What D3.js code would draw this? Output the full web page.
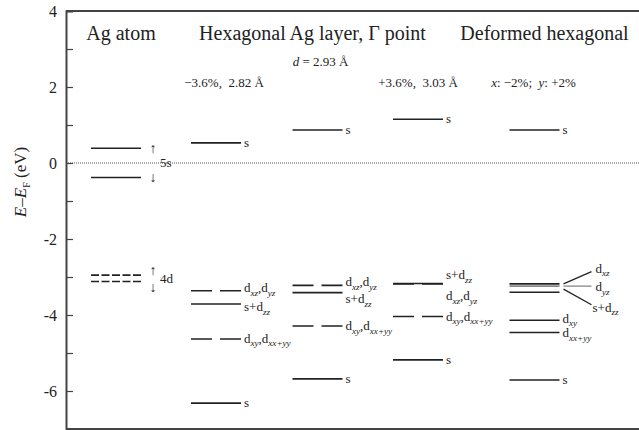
<!DOCTYPE html>
<html>
<head>
<meta charset="utf-8">
<script src="https://cdn.jsdelivr.net/npm/d3@7"></script>
<style>
  html, body { margin: 0; padding: 0; background: #fff; }
  svg { display: block; font-family: "Liberation Serif", "DejaVu Serif", serif; }
</style>
</head>
<body>
<svg id="chart" width="639" height="430"></svg>
<script>
// column keys and headings
const columns = ['atom', 'minus', 'eq', 'plus', 'deformed'];
const headings = [
  { text: 'Ag atom', at: 'atom' },
  { text: 'Hexagonal Ag layer, \u0393 point', at: 'eq' },
  { text: 'Deformed hexagonal', at: 'deformed' }
];
// energy levels (eV relative to E_F); label markup: {..} = subscript
const atomLevels = [
  { col: 'atom', e: 0.39, dash: false, label: null },
  { col: 'atom', e: -0.38, dash: false, label: null },
  { col: 'atom', e: -2.95, dash: 'atom', label: null },
  { col: 'atom', e: -3.12, dash: 'atom', label: null }
];
const minusLevels = [
  { col: 'minus', e: 0.53, dash: false, label: 's', le: 0.53 },
  { col: 'minus', e: -3.36, dash: true, label: 'd{xz},d{yz}', le: -3.29 },
  { col: 'minus', e: -3.71, dash: false, label: 's+d{zz}', le: -3.79 },
  { col: 'minus', e: -4.63, dash: true, label: 'd{xy},d{xx+yy}', le: -4.63 },
  { col: 'minus', e: -6.32, dash: false, label: 's', le: -6.32 }
];
const eqLevels = [
  { col: 'eq', e: 0.87, dash: false, label: 's', le: 0.87 },
  { col: 'eq', e: -3.22, dash: true, label: 'd{xz},d{yz}', le: -3.14 },
  { col: 'eq', e: -3.41, dash: false, label: 's+d{zz}', le: -3.58 },
  { col: 'eq', e: -4.29, dash: true, label: 'd{xy},d{xx+yy}', le: -4.29 },
  { col: 'eq', e: -5.68, dash: false, label: 's', le: -5.68 }
];
const plusLevels = [
  { col: 'plus', e: 1.15, dash: false, label: 's', le: 1.15 },
  { col: 'plus', e: -3.17, dash: false, label: 's+d{zz}', le: -2.96 },
  { col: 'plus', e: -3.18, dash: true, label: 'd{xz},d{yz}', le: -3.50 },
  { col: 'plus', e: -4.04, dash: true, label: 'd{xy},d{xx+yy}', le: -4.04 },
  { col: 'plus', e: -5.18, dash: false, label: 's', le: -5.18 }
];
const deformedLevels = [
  { col: 'deformed', e: 0.87, dash: false, label: 's', le: 0.87 },
  { col: 'deformed', e: -3.18, dash: false, label: null },
  { col: 'deformed', e: -3.24, dash: false, gray: true, label: null },
  { col: 'deformed', e: -3.40, dash: false, label: null },
  { col: 'deformed', e: -4.14, dash: false, label: 'd{xy}', le: -4.10 },
  { col: 'deformed', e: -4.46, dash: false, label: 'd{xx+yy}', le: -4.48 },
  { col: 'deformed', e: -5.71, dash: false, label: 's', le: -5.71 }
];
// fan labels for the split cluster of the deformed layer: from level energy to label energy
const fanLinks = [
  { from: -3.18, to: -2.86, label: 'd{xz}', gray: false },
  { from: -3.24, to: -3.24, label: 'd{yz}', gray: true },
  { from: -3.32, to: -3.73, label: 's+d{zz}', gray: false }
];
const subtitles = [
  { parts: [['d', 'i'], [' = 2.93 \u00c5', '']], at: 'eq', e: 2.55 },
  { parts: [['\u22123.6%,  2.82 \u00c5', '']], at: 'minus', e: 2.0 },
  { parts: [['+3.6%,  3.03 \u00c5', '']], at: 'plus', e: 2.0 },
  { parts: [['x', 'i'], [': \u22122%;  ', ''], ['y', 'i'], [': +2%', '']], at: 'deformed', e: 2.0 }
];
const yTicks = [-7, -6, -5, -4, -3, -2, -1, 0, 1, 2, 3, 4];
const yLabels = [-6, -4, -2, 0, 2, 4];

const width = 639, height = 430;
const margin = { top: 11, right: 0, bottom: 1, left: 66 };
const svg = d3.select('#chart');
const ink = '#222';

const y = d3.scaleLinear().domain([-7, 4]).range([height - margin.bottom, margin.top]);
const x = d3.scaleOrdinal().domain(columns).range([116, 216, 317.5, 418, 534.5]);
const halfLen = 25;

// frame
svg.append('line').attr('x1', margin.left).attr('x2', width).attr('y1', y(4)).attr('y2', y(4))
  .attr('stroke', '#444').attr('stroke-width', 2);
svg.append('line').attr('x1', margin.left).attr('x2', width).attr('y1', y(-7)).attr('y2', y(-7))
  .attr('stroke', '#444').attr('stroke-width', 2);

// zero reference
svg.append('line').attr('x1', margin.left).attr('x2', width).attr('y1', y(0)).attr('y2', y(0))
  .attr('stroke', '#555').attr('stroke-width', 1).attr('stroke-dasharray', '1 1');

// y axis with inward ticks
const axis = svg.append('g').attr('transform', `translate(${margin.left},0)`)
  .call(d3.axisRight(y).tickValues(yTicks).tickSize(7).tickFormat(''));
axis.select('.domain').attr('stroke', '#444').attr('stroke-width', 2);
axis.selectAll('.tick line').attr('stroke', '#444').attr('stroke-width', 1.2);

svg.append('g').selectAll('text').data(yLabels).enter().append('text')
  .attr('x', 57).attr('y', (d) => y(d) + 5.5)
  .attr('text-anchor', 'end').attr('font-size', 16).attr('fill', ink)
  .text((d) => (d < 0 ? '-' + Math.abs(d) : d));

const yl = svg.append('text')
  .attr('transform', `translate(26,${y(-0.5)}) rotate(-90)`)
  .attr('text-anchor', 'middle').attr('font-size', 17).attr('fill', ink);
yl.append('tspan').attr('font-style', 'italic').text('E');
yl.append('tspan').text('\u2013');
yl.append('tspan').attr('font-style', 'italic').text('E');
yl.append('tspan').attr('font-size', 10).attr('dy', 4).text('F');
yl.append('tspan').attr('dy', -4).text(' (eV)');

// headings
svg.append('g').selectAll('text').data(headings).enter().append('text')
  .attr('x', (d) => (d.at === 'atom' ? x(d.at) + 5 : d.at === 'eq' ? x(d.at) - 5 : x(d.at) + 10))
  .attr('y', y(3.25))
  .attr('text-anchor', 'middle').attr('font-size', 20).attr('fill', ink)
  .text((d) => d.text);

subtitles.forEach((s) => {
  const t = svg.append('text')
    .attr('x', x(s.at) + (s.at === 'eq' ? 3 : s.at === 'deformed' ? -1 : s.at === 'minus' ? 8 : 0))
    .attr('y', y(s.e))
    .attr('text-anchor', 'middle').attr('font-size', 13).attr('fill', ink)
    .style('white-space', 'pre');
  s.parts.forEach(([txt, st]) => {
    t.append('tspan').attr('font-style', st === 'i' ? 'italic' : 'normal').text(txt);
  });
});

// rich label: {..} segments become italic subscripts
function richLabel(sel, markup, fontSize) {
  const tokens = markup.split(/(\{[^}]*\})/).filter((s) => s.length);
  let down = false;
  tokens.forEach((tok) => {
    if (tok.startsWith('{')) {
      sel.append('tspan').attr('font-size', fontSize * 0.7).attr('font-style', 'italic')
        .attr('dy', down ? 0 : 3.5).text(tok.slice(1, -1));
      down = true;
    } else {
      sel.append('tspan').attr('dy', down ? -3.5 : 0).text(tok);
      down = false;
    }
  });
}

const levels = [...atomLevels, ...minusLevels, ...eqLevels, ...plusLevels, ...deformedLevels];

svg.append('g').selectAll('line').data(levels).enter().append('line')
  .attr('x1', (d) => x(d.col) - halfLen)
  .attr('x2', (d) => x(d.col) + halfLen)
  .attr('y1', (d) => y(d.e))
  .attr('y2', (d) => y(d.e))
  .attr('stroke', (d) => (d.gray ? '#888' : ink))
  .attr('stroke-width', 1.6)
  .attr('stroke-dasharray', (d) => (d.dash === 'atom' ? '8 2.5' : d.dash ? '21 8' : null));

levels.filter((d) => d.label).forEach((d) => {
  const t = svg.append('text')
    .attr('x', x(d.col) + halfLen + 3)
    .attr('y', y(d.le) + 4)
    .attr('font-size', 13).attr('fill', ink);
  richLabel(t, d.label, 13);
});

// spin arrows and shell names for the atom
const atomX = x('atom') + halfLen;
[[0.39, '\u2191'], [-0.38, '\u2193'], [-2.82, '\u2191'], [-3.25, '\u2193']].forEach(([e, a]) => {
  svg.append('text').attr('x', atomX + 12).attr('y', y(e) + 5)
    .attr('text-anchor', 'middle').attr('font-size', 14).attr('fill', ink).text(a);
});
svg.append('text').attr('x', atomX + 19).attr('y', y(-0.1))
  .attr('font-size', 13).attr('fill', ink).text('5s');
svg.append('text').attr('x', atomX + 19).attr('y', y(-3.06) + 4)
  .attr('font-size', 13).attr('fill', ink).text('4d');

// fan for the deformed cluster
const fx = x('deformed') + halfLen;
fanLinks.forEach((f) => {
  svg.append('line')
    .attr('x1', fx + 4).attr('y1', y(f.from))
    .attr('x2', fx + 32).attr('y2', y(f.to))
    .attr('stroke', f.gray ? '#888' : ink).attr('stroke-width', 1.3);
  const t = svg.append('text')
    .attr('x', fx + (f.label.startsWith('s') ? 33 : 36))
    .attr('y', y(f.to) + (f.label.startsWith('s') ? 7 : f.gray ? 5 : 1))
    .attr('font-size', 13).attr('fill', ink);
  richLabel(t, f.label, 13);
});
</script>
</body>
</html>
